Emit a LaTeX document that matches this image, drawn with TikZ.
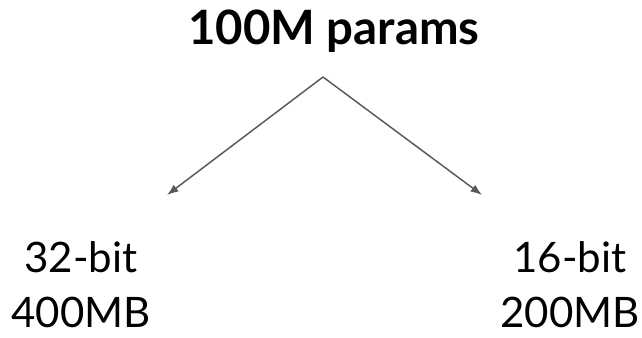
\documentclass[tikz,border=0pt]{standalone}
\usepackage{fontspec}
\setmainfont{Lato}
\usetikzlibrary{positioning,arrows.meta}
\definecolor{linegray}{HTML}{595959}

\begin{document}
\begin{tikzpicture}[x=0.75pt, y=-0.75pt]
\useasboundingbox (0,0) rectangle (642,338);
\node[inner sep=0pt, anchor=base, font=\fontsize{35.5}{40}\selectfont\bfseries] (title) at (334,45) {100M params};
\coordinate (apex) at (323,77);
\coordinate (ltip) at (167,195);
\coordinate (rtip) at (482,195);
\node[inner sep=0pt, anchor=north, align=center, font=\fontsize{31.5}{41.5}\selectfont] (left) at (81,241) {32-bit\\400MB};
\node[inner sep=0pt, anchor=north, align=center, font=\fontsize{31.5}{41.5}\selectfont] (right) at (570,241) {16-bit\\200MB};
\draw[-{Latex[length=3mm,width=2.2mm]}, line width=1.1pt, color=linegray] (apex) -- (ltip);
\draw[-{Latex[length=3mm,width=2.2mm]}, line width=1.1pt, color=linegray] (apex) -- (rtip);
\end{tikzpicture}
\end{document}
